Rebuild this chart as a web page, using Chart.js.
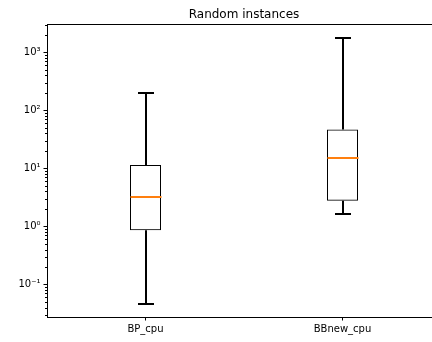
<!DOCTYPE html>
<html>
<head>
<meta charset="utf-8">
<script src="https://cdn.jsdelivr.net/npm/chart.js@4/dist/chart.umd.min.js"></script>
<style>
html,body{margin:0;padding:0;background:#fff;overflow:hidden;}
canvas{display:block;}
</style>
</head>
<body>
<canvas id="c" width="450" height="342" style="width:450px;height:342px"></canvas>
<script>
const categories = ['BP_cpu', 'BBnew_cpu'];
const whiskerLow = [0.0457, 1.65];
const q1 = [0.863, 2.76];
const median = [3.24, 15.1];
const q3 = [11.5, 47];
const whiskerHigh = [201, 1786];
const majorTicks = [0.1, 1, 10, 100, 1000];
const majorLabels = ['10⁻¹', '10⁰', '10¹', '10²', '10³'];
const titleText = 'Random instances';
const yMin = 0.0275, yMax = 3080;

const FONT = '"DejaVu Sans", sans-serif';

const boxPlugin = {
  id: 'boxExtras',
  afterDatasetsDraw(chart) {
    const ctx = chart.ctx;
    const xs = chart.scales.x, ys = chart.scales.y;
    const ca = chart.chartArea;
    ctx.save();
    // top spine
    ctx.strokeStyle = '#000';
    ctx.lineWidth = 1;
    ctx.beginPath();
    ctx.moveTo(ca.left, Math.round(ca.top) + 0.5);
    ctx.lineTo(ca.right, Math.round(ca.top) + 0.5);
    ctx.stroke();
    // minor ticks
    for (let n = -3; n <= 4; n++) {
      for (let k = 2; k <= 9; k++) {
        const v = k * Math.pow(10, n);
        if (v < yMin || v > yMax) continue;
        const y = Math.round(ys.getPixelForValue(v)) + 0.5;
        ctx.beginPath();
        ctx.moveTo(ca.left - 2, y);
        ctx.lineTo(ca.left, y);
        ctx.stroke();
      }
    }
    // whiskers, caps, medians
    for (let i = 0; i < categories.length; i++) {
      const x = Math.round(xs.getPixelForValue(i));
      const yl = Math.round(ys.getPixelForValue(whiskerLow[i]));
      const yh = Math.round(ys.getPixelForValue(whiskerHigh[i]));
      const y1 = ys.getPixelForValue(q1[i]);
      const y3 = ys.getPixelForValue(q3[i]);
      ctx.strokeStyle = '#000';
      ctx.lineWidth = 2;
      ctx.lineCap = 'butt';
      ctx.beginPath();
      ctx.moveTo(x, yl); ctx.lineTo(x, y1);
      ctx.moveTo(x, y3); ctx.lineTo(x, yh);
      ctx.moveTo(x - 8, yl); ctx.lineTo(x + 8, yl);
      ctx.moveTo(x - 8, yh); ctx.lineTo(x + 8, yh);
      ctx.stroke();
      ctx.strokeStyle = '#ff7f0e';
      ctx.lineWidth = 2;
      const ym = Math.round(ys.getPixelForValue(median[i]));
      ctx.beginPath();
      ctx.moveTo(x - 15.5, ym); ctx.lineTo(x + 15.5, ym);
      ctx.stroke();
    }
    // title
    ctx.fillStyle = '#000';
    ctx.font = '12px ' + FONT;
    ctx.textAlign = 'center';
    ctx.textBaseline = 'alphabetic';
    ctx.fillText(titleText, (ca.left + ca.right) / 2, 18);
    ctx.restore();
  }
};

new Chart(document.getElementById('c'), {
  type: 'bar',
  data: {
    labels: categories,
    datasets: [{
      data: q1.map((v, i) => [v, q3[i]]),
      backgroundColor: 'rgba(255,255,255,0)',
      borderColor: '#000',
      borderWidth: 1,
      borderSkipped: false,
      inflateAmount: 0,
      barThickness: 31
    }]
  },
  options: {
    responsive: false,
    devicePixelRatio: 1,
    animation: false,
    layout: { padding: { top: 24, right: 9, left: 0, bottom: 0 } },
    plugins: { legend: { display: false }, title: { display: false }, tooltip: { enabled: false } },
    scales: {
      x: {
        offset: true,
        afterFit(s) { s.height = 25; },
        grid: { display: true, drawOnChartArea: false, drawTicks: true, tickLength: 3.5, tickColor: '#000', offset: false },
        border: { display: true, color: '#000', width: 1 },
        ticks: { color: '#000', font: { family: FONT, size: 10 }, padding: 3, maxRotation: 0 }
      },
      y: {
        type: 'logarithmic',
        min: yMin,
        max: yMax,
        afterFit(s) { s.width = 47; },
        afterBuildTicks(s) { s.ticks = majorTicks.map(v => ({ value: v })); },
        grid: { display: true, drawOnChartArea: false, drawTicks: true, tickLength: 3.5, tickColor: '#000' },
        border: { display: true, color: '#000', width: 1 },
        ticks: {
          color: '#000', font: { family: FONT, size: 10 }, padding: 3,
          callback(value) {
            const idx = majorTicks.findIndex(t => Math.abs(Math.log10(t) - Math.log10(value)) < 1e-6);
            return idx >= 0 ? majorLabels[idx] : '';
          }
        }
      }
    }
  },
  plugins: [boxPlugin]
});
</script>
</body>
</html>
